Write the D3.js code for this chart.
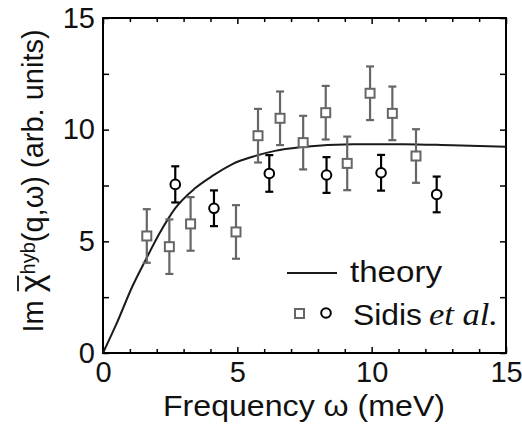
<!DOCTYPE html>
<html>
<head>
<meta charset="utf-8">
<script src="https://cdn.jsdelivr.net/npm/d3@7"></script>
<style>
  body { margin: 0; background: #fff; }
  text { font-family: "Liberation Sans", Arial, sans-serif; }
</style>
</head>
<body>
<div id="chart"></div>
<script>
// data
var squareX   = [1.63, 2.47, 3.26, 4.95, 5.77, 6.59, 7.45, 8.29, 9.09, 9.94, 10.77, 11.65];
var squareY   = [5.24, 4.76, 5.78, 5.42, 9.73, 10.51, 9.42, 10.76, 8.49, 11.63, 10.73, 8.82];
var squareErr = [1.2, 1.22, 1.2, 1.2, 1.2, 1.2, 1.2, 1.2, 1.2, 1.2, 1.2, 1.2];

var circleX   = [2.69, 4.13, 6.19, 8.32, 10.35, 12.42];
var circleY   = [7.55, 6.48, 8.04, 7.97, 8.07, 7.1];
var circleErr = [0.81, 0.8, 0.82, 0.8, 0.8, 0.8];

var theoryX = [0, 0.5, 1.1, 1.6, 2.1, 2.7, 3.4, 4.1, 4.8, 5.6, 6.4, 7.4, 9.3, 11.2, 13, 15];
var theoryY = [0, 1.3, 3.0, 4.2, 5.35, 6.5, 7.35, 7.95, 8.45, 8.8, 9.05, 9.22, 9.35, 9.35, 9.3, 9.24];

var xTicks = d3.range(0, 16, 1);
var yTicks = d3.range(0, 15.1, 2.5);
var majorTicks = [0, 5, 10, 15];

var grey = "#666666";

// set margins and draw canvas
var margin = {left: 103, right: 16, top: 18, bottom: 73};
var width = 522 - margin.left - margin.right,
	height = 426 - margin.top - margin.bottom;

var svg = d3.select("#chart").append("svg")
		.attr("width", 522)
		.attr("height", 426);

var canvas = svg.append("g")
		.attr("transform", "translate(" + margin.left + "," + margin.top + ")");

var x = d3.scaleLinear().domain([0, 15]).range([0, width]);
var y = d3.scaleLinear().domain([0, 15]).range([height, 0]);

function isMajor(d) { return majorTicks.indexOf(d) >= 0; }

// axes, ticks pointing inward on all four sides
function styleAxis(g) {
	g.select(".domain").remove();
	g.selectAll(".tick line")
		.attr("stroke", "#000")
		.attr("stroke-width", 1.5);
	g.selectAll(".tick text")
		.attr("font-size", "29px")
		.attr("fill", "#111");
}

var xAxisB = canvas.append("g")
	.attr("transform", "translate(0," + height + ")")
	.call(d3.axisBottom(x).tickValues(xTicks).tickSize(-4).tickPadding(7)
		.tickFormat(function(d){ return isMajor(d) ? d : ""; }));
styleAxis(xAxisB);
xAxisB.selectAll(".tick line").filter(isMajor).attr("y2", -6);
xAxisB.selectAll(".tick text").attr("dy", "0.75em");

var xAxisT = canvas.append("g")
	.call(d3.axisTop(x).tickValues(xTicks).tickSize(-4).tickFormat(""));
styleAxis(xAxisT);
xAxisT.selectAll(".tick line").filter(isMajor).attr("y2", 6);

var yAxisL = canvas.append("g")
	.call(d3.axisLeft(y).tickValues(yTicks).tickSize(-6).tickPadding(8)
		.tickFormat(function(d){ return isMajor(d) ? d : ""; }));
styleAxis(yAxisL);

var yAxisR = canvas.append("g")
	.attr("transform", "translate(" + width + ",0)")
	.call(d3.axisRight(y).tickValues(yTicks).tickSize(-6).tickFormat(""));
styleAxis(yAxisR);

// frame
canvas.append("rect")
	.attr("width", width)
	.attr("height", height)
	.attr("fill", "none")
	.attr("stroke", "#000")
	.attr("stroke-width", 2);

// theory curve
var theory = theoryX.map(function(d, i){ return [d, theoryY[i]]; });
var line = d3.line()
	.x(function(d){ return x(d[0]); })
	.y(function(d){ return y(d[1]); })
	.curve(d3.curveMonotoneX);

canvas.append("path")
	.datum(theory)
	.attr("d", line)
	.attr("fill", "none")
	.attr("stroke", "#1a1a1a")
	.attr("stroke-width", 2);

// error bars
function errorBars(xs, ys, errs, color, capW) {
	var pts = xs.map(function(d, i){ return {x: d, y: ys[i], e: errs[i]}; });
	var g = canvas.append("g")
		.attr("stroke", color)
		.attr("stroke-width", 2.2)
		.attr("fill", "none");
	var bar = g.selectAll("g").data(pts).enter().append("g");
	bar.append("line")
		.attr("x1", function(d){ return x(d.x); })
		.attr("x2", function(d){ return x(d.x); })
		.attr("y1", function(d){ return y(d.y + d.e); })
		.attr("y2", function(d){ return y(d.y - d.e); });
	bar.append("line")
		.attr("x1", function(d){ return x(d.x) - capW; })
		.attr("x2", function(d){ return x(d.x) + capW; })
		.attr("y1", function(d){ return y(d.y + d.e); })
		.attr("y2", function(d){ return y(d.y + d.e); });
	bar.append("line")
		.attr("x1", function(d){ return x(d.x) - capW; })
		.attr("x2", function(d){ return x(d.x) + capW; })
		.attr("y1", function(d){ return y(d.y - d.e); })
		.attr("y2", function(d){ return y(d.y - d.e); });
	return pts;
}

var sq = errorBars(squareX, squareY, squareErr, grey, 4);
var ci = errorBars(circleX, circleY, circleErr, "#000", 4);

canvas.append("g").selectAll("rect")
	.data(sq).enter().append("rect")
	.attr("x", function(d){ return x(d.x) - 4.5; })
	.attr("y", function(d){ return y(d.y) - 4.5; })
	.attr("width", 9)
	.attr("height", 9)
	.attr("fill", "#fff")
	.attr("stroke", grey)
	.attr("stroke-width", 2);

canvas.append("g").selectAll("circle")
	.data(ci).enter().append("circle")
	.attr("cx", function(d){ return x(d.x); })
	.attr("cy", function(d){ return y(d.y); })
	.attr("r", 4.8)
	.attr("fill", "#fff")
	.attr("stroke", "#000")
	.attr("stroke-width", 2);

// legend
var legend = svg.append("g");
legend.append("line")
	.attr("x1", 287).attr("x2", 337)
	.attr("y1", 273).attr("y2", 273)
	.attr("stroke", "#1a1a1a")
	.attr("stroke-width", 2);
legend.append("text")
	.attr("x", 350).attr("y", 282)
	.attr("font-size", "30px")
	.attr("textLength", 92)
	.attr("lengthAdjust", "spacingAndGlyphs")
	.attr("fill", "#111")
	.text("theory");
legend.append("rect")
	.attr("x", 295).attr("y", 309)
	.attr("width", 9).attr("height", 9)
	.attr("fill", "#fff")
	.attr("stroke", grey)
	.attr("stroke-width", 2);
legend.append("circle")
	.attr("cx", 326).attr("cy", 313)
	.attr("r", 4.8)
	.attr("fill", "#fff")
	.attr("stroke", "#000")
	.attr("stroke-width", 2);
legend.append("text")
	.attr("x", 353).attr("y", 325)
	.attr("font-size", "30px")
	.attr("textLength", 69)
	.attr("lengthAdjust", "spacingAndGlyphs")
	.attr("fill", "#111")
	.text("Sidis");
legend.append("text")
	.attr("x", 429).attr("y", 325)
	.attr("font-size", "31px")
	.attr("textLength", 69)
	.attr("lengthAdjust", "spacingAndGlyphs")
	.attr("fill", "#111")
	.style("font-family", "'Liberation Serif', 'Times New Roman', serif")
	.style("font-style", "italic")
	.text("et al.");

// X label
svg.append("text")
	.attr("x", 163)
	.attr("y", 416)
	.attr("font-size", "30px")
	.attr("textLength", 282)
	.attr("lengthAdjust", "spacingAndGlyphs")
	.attr("fill", "#111")
	.text("Frequency \u03c9 (meV)");

// Y label
var ylabG = svg.append("g")
	.attr("transform", "translate(43,181) rotate(-90)");
var ylab = ylabG.append("text")
	.attr("font-size", "29px")
	.attr("text-anchor", "middle")
	.attr("fill", "#111");
ylab.append("tspan").text("Im ");
ylab.append("tspan").attr("font-size", "34px").text("\u03c7");
ylab.append("tspan").attr("font-size", "20px").attr("dy", "-8").text("hyb");
ylab.append("tspan").attr("dy", "8").text("(q,\u03c9) (arb. units)");

// bar over chi
var chiStart = ylab.node().getStartPositionOfChar(3);
var chiEnd = ylab.node().getEndPositionOfChar(3);
ylabG.append("line")
	.attr("x1", chiStart.x + 1)
	.attr("x2", chiEnd.x - 1)
	.attr("y1", -25)
	.attr("y2", -25)
	.attr("stroke", "#111")
	.attr("stroke-width", 1.8);
</script>
</body>
</html>
